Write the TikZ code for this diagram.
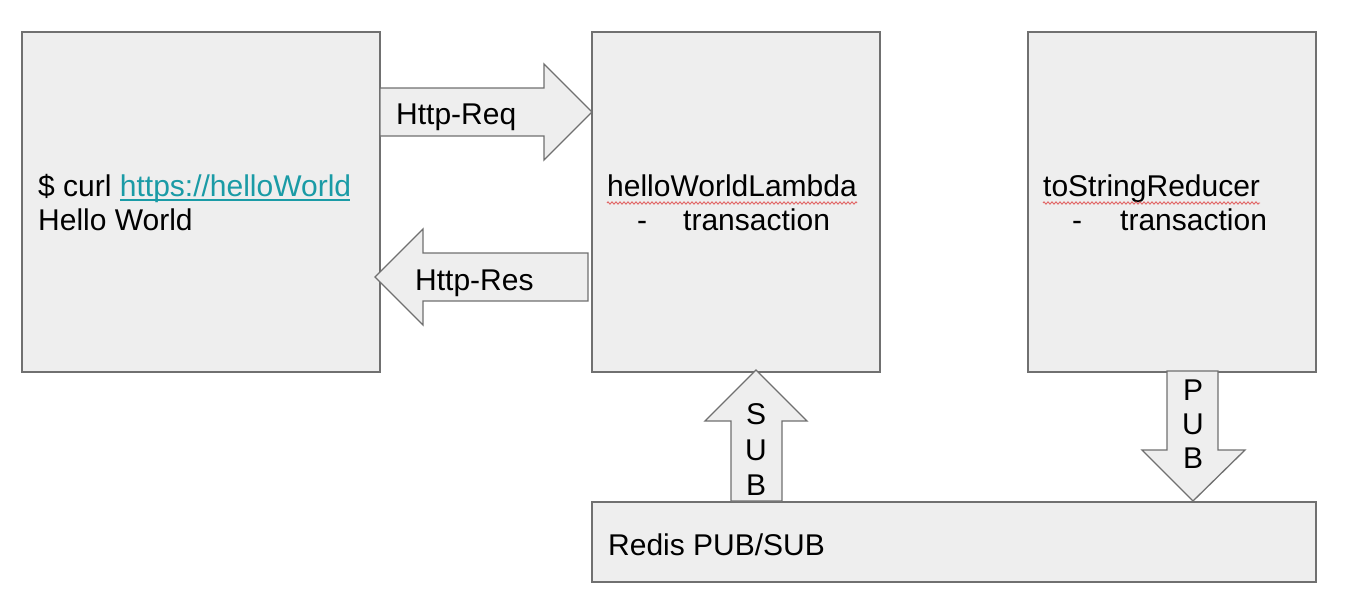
\documentclass[tikz,border=0pt]{standalone}
\usepackage{fontspec}
\setmainfont{Liberation Sans}
\usetikzlibrary{decorations.pathmorphing}
\definecolor{boxfill}{HTML}{EEEEEE}
\definecolor{boxline}{HTML}{707070}
\definecolor{linkcol}{HTML}{1A9BA6}
\definecolor{squig}{HTML}{E05A5A}
\begin{document}
\begin{tikzpicture}[x=1pt,y=-1pt,
  box/.style={draw=boxline,fill=boxfill,line width=1.3pt,inner sep=0pt,outer sep=0pt},
  blockarrow/.style={draw=boxline,fill=boxfill,line width=1.3pt,line join=miter},
  txt/.style={inner sep=0pt,anchor=base west,font=\fontsize{30}{34}\selectfont},
  ctxt/.style={inner sep=0pt,anchor=center,font=\fontsize{30}{34}\selectfont},
  spell/.style={squig,line width=0.8pt,decorate,decoration={zigzag,segment length=4pt,amplitude=1.2pt}}]
\useasboundingbox (0,0) rectangle (1366,608);
% boxes
\node[box,minimum width=358pt,minimum height=340pt] (client) at (201,202) {};
\node[box,minimum width=288pt,minimum height=340pt] (lambda) at (736,202) {};
\node[box,minimum width=288pt,minimum height=340pt] (reducer) at (1172,202) {};
\node[box,minimum width=724pt,minimum height=80pt] (redis) at (954,542) {};
% Http-Req arrow
\draw[blockarrow] (client.east |- 0,88) -- (544,88) -- (544,64) -- (lambda.west |- 0,112) -- (544,160) -- (544,136) -- (client.east |- 0,136) -- cycle;
% Http-Res arrow
\draw[blockarrow] (375,277) -- (423,229) -- (423,253) -- (588,253) -- (588,301) -- (423,301) -- (423,325) -- cycle;
% SUB arrow
\draw[blockarrow] (731,501) -- (731,421) -- (705,421) -- (756,370) -- (807,421) -- (782,421) -- (782,501) -- cycle;
% PUB arrow
\draw[blockarrow] (1167,371) -- (1167,450) -- (1142,450) -- (1193,501) -- (1245,450) -- (1218,450) -- (1218,371) -- cycle;
% texts
\node[txt] (curl) at (38,196) {\$ curl \textcolor{linkcol}{https://helloWorld}};
\draw[linkcol,line width=1.5pt] (120,200) -- (350,200);
\node[txt] (hello) at (38,230) {Hello World};
\node[txt] (lname) at (607,196) {helloWorldLambda};
\node[txt] (ldash) at (637,230) {-};
\node[txt] (ltrans) at (683,230) {transaction};
\draw[spell] (607,203) -- (857,203);
\node[txt] (rname) at (1043,196) {toStringReducer};
\node[txt] (rdash) at (1072,230) {-};
\node[txt] (rtrans) at (1120,230) {transaction};
\draw[spell] (1043,203) -- (1260,203);
\node[txt] (req) at (396,124) {Http-Req};
\node[txt] (res) at (415,290) {Http-Res};
\node[txt] (redistxt) at (608,555) {Redis PUB/SUB};
\node[ctxt] (s1) at (756,414) {S};
\node[ctxt] (s2) at (756,450) {U};
\node[ctxt] (s3) at (756,485) {B};
\node[ctxt] (p1) at (1193,390) {P};
\node[ctxt] (p2) at (1193,424) {U};
\node[ctxt] (p3) at (1193,458) {B};
\end{tikzpicture}
\end{document}
